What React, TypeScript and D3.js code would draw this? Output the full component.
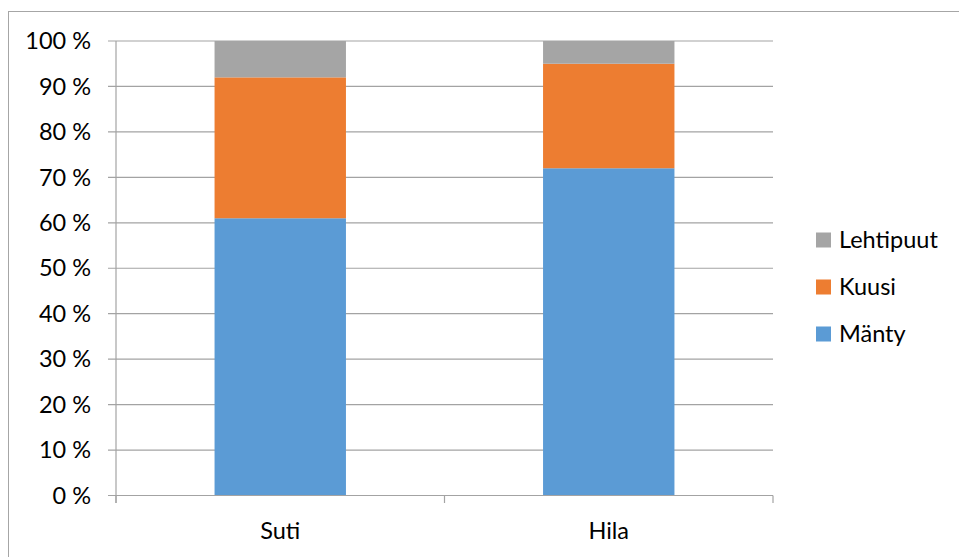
import React from 'react';
import * as d3 from 'd3';

const categories = ['Suti', 'Hila'];
const seriesNames = ['Mänty', 'Kuusi', 'Lehtipuut'];
const manty = [61, 72];
const kuusi = [31, 23];
const lehtipuut = [8, 5];
const yTicks = [0, 10, 20, 30, 40, 50, 60, 70, 80, 90, 100];

const colors: Record<string, string> = {
  'Mänty': '#5b9bd5',
  'Kuusi': '#ed7d31',
  'Lehtipuut': '#a5a5a5',
};

const FONT = 'Lato, "Open Sans", sans-serif';

export default function App() {
  const left = 116;
  const right = 773;
  const top = 41;
  const bottom = 495.5;

  const rows = categories.map((c, i) => ({
    cat: c,
    'Mänty': manty[i],
    'Kuusi': kuusi[i],
    'Lehtipuut': lehtipuut[i],
  }));

  const stacked = d3.stack<any>().keys(seriesNames)(rows);

  const x = d3.scaleBand().domain(categories).range([left, right]).padding(0);
  const y = d3.scaleLinear().domain([0, 100]).range([bottom, top]);
  const barW = x.bandwidth() * 0.4;

  const legendOrder = [...seriesNames].reverse();

  return (
    <svg
      width={959}
      height={557}
      style={{ position: 'absolute', left: 0, top: 0, background: '#fff' }}
      fontFamily={FONT}
    >
      <rect x={8.5} y={11.5} width={980} height={600} fill="#fff" stroke="#a6a6a6" />

      {/* grid + y ticks */}
      {yTicks.map((t) => (
        <g key={t}>
          <line x1={108} x2={right} y1={y(t)} y2={y(t)} stroke="#a3a3a3" strokeWidth={1.2} />
          <text x={91} y={y(t)} dy="0.35em" textAnchor="end" fontSize={23.5} fill="#000">
            {`${t} %`}
          </text>
        </g>
      ))}

      {/* bars */}
      {stacked.map((s) => (
        <g key={s.key} fill={colors[s.key]}>
          {s.map((d, i) => (
            <rect
              key={i}
              x={(x(categories[i]) as number) + (x.bandwidth() - barW) / 2}
              y={y(d[1])}
              width={barW}
              height={y(d[0]) - y(d[1])}
            />
          ))}
        </g>
      ))}

      {/* axes */}
      <line x1={left} x2={left} y1={top} y2={503} stroke="#a3a3a3" strokeWidth={1.2} />
      <line x1={left} x2={right} y1={bottom} y2={bottom} stroke="#a3a3a3" strokeWidth={1.2} />
      {[...categories.map((c) => x(c) as number), right].map((v, i) => (
        <line key={i} x1={v} x2={v} y1={bottom} y2={503} stroke="#a3a3a3" strokeWidth={1.2} />
      ))}
      {categories.map((c) => (
        <text
          key={c}
          x={(x(c) as number) + x.bandwidth() / 2}
          y={531}
          dy="0.35em"
          textAnchor="middle"
          fontSize={23.5}
          fill="#000"
        >
          {c}
        </text>
      ))}

      {/* legend */}
      {legendOrder.map((k, i) => (
        <g key={k} transform={`translate(816, ${240 + i * 47})`}>
          <rect x={0} y={-7.5} width={15} height={15} fill={colors[k]} />
          <text x={23} y={0} dy="0.35em" fontSize={23.5} fill="#000">
            {k}
          </text>
        </g>
      ))}
    </svg>
  );
}
